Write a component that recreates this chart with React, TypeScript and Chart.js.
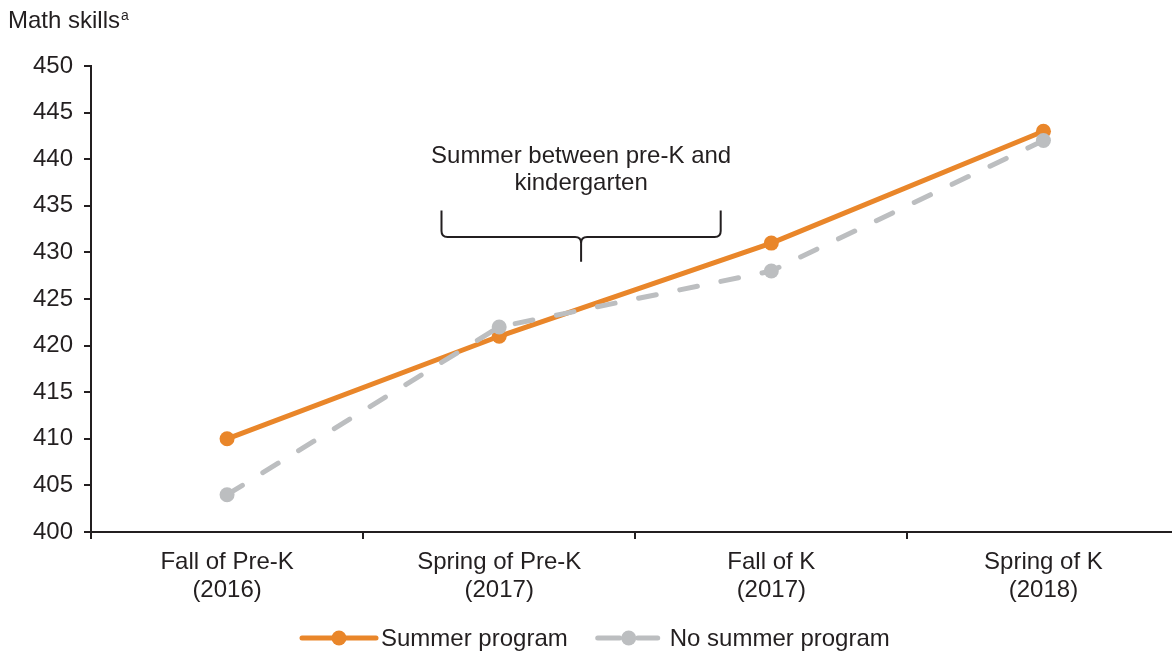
import React, { useEffect, useRef } from "react";
import { Chart, registerables } from "chart.js";

Chart.register(...registerables);

const CATEGORY_NAMES = ["Fall of Pre-K", "Spring of Pre-K", "Fall of K", "Spring of K"];
const CATEGORY_YEARS = ["(2016)", "(2017)", "(2017)", "(2018)"];
const SUMMER_PROGRAM = [410, 421, 431, 443];
const NO_SUMMER_PROGRAM = [404, 422, 428, 442];
const SERIES_NAMES = ["Summer program", "No summer program"];
const Y_MIN = 400;
const Y_MAX = 450;
const Y_STEP = 5;
const TITLE = "Math skills";
const TITLE_SUP = "a";
const NOTE_LINES = ["Summer between pre-K and", "kindergarten"];

const FONT = '"Liberation Sans", Arial, Helvetica, sans-serif';
const FS = 24;
const TEXT = "#231f20";
const ORANGE = "#e9862a";
const GRAY = "#bcbec0";

// brace annotation anchored in data space (category index, value)
const BRACE = { from: 0.788, to: 1.814, top: 434.5, mid: 431.65, tip: 429 };
const NOTE_Y = [439.55, 436.65];

const annotPlugin = {
  id: "annot",
  afterDraw(chart: any) {
    const { ctx, scales } = chart;
    const x = scales.x;
    const y = scales.y;
    const px = (v: number) => {
      const a = x.getPixelForValue(Math.floor(v));
      const b = x.getPixelForValue(Math.floor(v) + 1);
      return a + (b - a) * (v - Math.floor(v));
    };
    ctx.save();
    // title
    ctx.fillStyle = TEXT;
    ctx.textAlign = "left";
    ctx.textBaseline = "alphabetic";
    ctx.font = `${FS}px ${FONT}`;
    ctx.fillText(TITLE, 8, 28);
    const tw = ctx.measureText(TITLE).width;
    ctx.font = `14px ${FONT}`;
    ctx.fillText(TITLE_SUP, 8 + tw + 1, 20);

    // brace
    const xl = px(BRACE.from);
    const xr = px(BRACE.to);
    const xc = (xl + xr) / 2;
    const yt = y.getPixelForValue(BRACE.top);
    const ym = y.getPixelForValue(BRACE.mid);
    const yb = y.getPixelForValue(BRACE.tip);
    const r = 6;
    ctx.strokeStyle = TEXT;
    ctx.lineWidth = 2;
    ctx.beginPath();
    ctx.moveTo(xl, yt);
    ctx.lineTo(xl, ym - r);
    ctx.quadraticCurveTo(xl, ym, xl + r, ym);
    ctx.lineTo(xc - r, ym);
    ctx.quadraticCurveTo(xc, ym, xc, ym + r);
    ctx.lineTo(xc, yb);
    ctx.moveTo(xc, ym + r);
    ctx.quadraticCurveTo(xc, ym, xc + r, ym);
    ctx.lineTo(xr - r, ym);
    ctx.quadraticCurveTo(xr, ym, xr, ym - r);
    ctx.lineTo(xr, yt);
    ctx.stroke();

    // note text
    ctx.font = `${FS}px ${FONT}`;
    ctx.textAlign = "center";
    NOTE_LINES.forEach((t, i) => ctx.fillText(t, xc, y.getPixelForValue(NOTE_Y[i])));

    // legend
    const ly = 638;
    let lx = 300;
    ctx.textAlign = "left";
    ctx.textBaseline = "middle";
    // orange
    ctx.strokeStyle = ORANGE;
    ctx.fillStyle = ORANGE;
    ctx.lineWidth = 5;
    ctx.lineCap = "round";
    ctx.beginPath();
    ctx.moveTo(lx + 2, ly);
    ctx.lineTo(lx + 76, ly);
    ctx.stroke();
    ctx.beginPath();
    ctx.arc(lx + 39, ly, 7.5, 0, Math.PI * 2);
    ctx.fill();
    ctx.fillStyle = TEXT;
    ctx.fillText(SERIES_NAMES[0], lx + 81, ly + 1);
    lx = lx + 81 + ctx.measureText(SERIES_NAMES[0]).width + 28;
    // gray
    ctx.strokeStyle = GRAY;
    ctx.fillStyle = GRAY;
    ctx.beginPath();
    ctx.moveTo(lx + 2, ly);
    ctx.lineTo(lx + 24, ly);
    ctx.moveTo(lx + 42, ly);
    ctx.lineTo(lx + 62, ly);
    ctx.stroke();
    ctx.beginPath();
    ctx.arc(lx + 33, ly, 7.5, 0, Math.PI * 2);
    ctx.fill();
    ctx.fillStyle = TEXT;
    ctx.fillText(SERIES_NAMES[1], lx + 74, ly + 1);
    ctx.restore();
  },
};

export default function App() {
  const ref = useRef<HTMLCanvasElement | null>(null);
  useEffect(() => {
    if (!ref.current) return;
    const labels = CATEGORY_NAMES.map((n, i) => [n, CATEGORY_YEARS[i]]);
    const chart = new Chart(ref.current, {
      type: "line",
      data: {
        labels,
        datasets: [
          {
            label: SERIES_NAMES[0],
            data: SUMMER_PROGRAM,
            borderColor: ORANGE,
            backgroundColor: ORANGE,
            borderWidth: 5,
            pointRadius: 7.5,
            pointBorderWidth: 0,
            pointBackgroundColor: ORANGE,
            tension: 0,
            order: 1,
          },
          {
            label: SERIES_NAMES[1],
            data: NO_SUMMER_PROGRAM,
            borderColor: GRAY,
            backgroundColor: GRAY,
            borderWidth: 5,
            borderDash: [18, 24],
            borderCapStyle: "round",
            pointRadius: 7.5,
            pointBorderWidth: 0,
            pointBackgroundColor: GRAY,
            tension: 0,
            order: 0,
          },
        ],
      },
      options: {
        responsive: false,
        animation: false,
        devicePixelRatio: 1,
        layout: { padding: { top: 66, left: 0, right: 3, bottom: 0 } },
        plugins: {
          legend: { display: false },
          title: { display: false },
          tooltip: { enabled: false },
        },
        scales: {
          x: {
            type: "category",
            offset: true,
            afterFit: (s: any) => {
              s.height = 119;
            },
            grid: {
              offset: true,
              drawOnChartArea: false,
              drawTicks: true,
              tickLength: 7,
              color: TEXT,
              lineWidth: 2,
            },
            border: { display: true, color: TEXT, width: 2 },
            ticks: {
              color: TEXT,
              font: { family: FONT, size: FS, lineHeight: 1.17 },
              padding: 9,
              maxRotation: 0,
              autoSkip: false,
            },
          },
          y: {
            min: Y_MIN,
            max: Y_MAX,
            afterFit: (s: any) => {
              s.width = 91;
            },
            grid: {
              drawOnChartArea: false,
              drawTicks: true,
              tickLength: 7,
              color: TEXT,
              lineWidth: 2,
            },
            border: { display: true, color: TEXT, width: 2 },
            ticks: {
              stepSize: Y_STEP,
              color: TEXT,
              font: { family: FONT, size: FS },
              padding: 11,
            },
          },
        },
      },
      plugins: [annotPlugin],
    });
    return () => chart.destroy();
  }, []);
  return (
    <div
      style={{
        position: "fixed",
        left: 0,
        top: 0,
        width: 1172,
        height: 651,
        overflow: "hidden",
        background: "#fff",
      }}
    >
      <canvas ref={ref} width={1187} height={651} style={{ display: "block" }} />
    </div>
  );
}
